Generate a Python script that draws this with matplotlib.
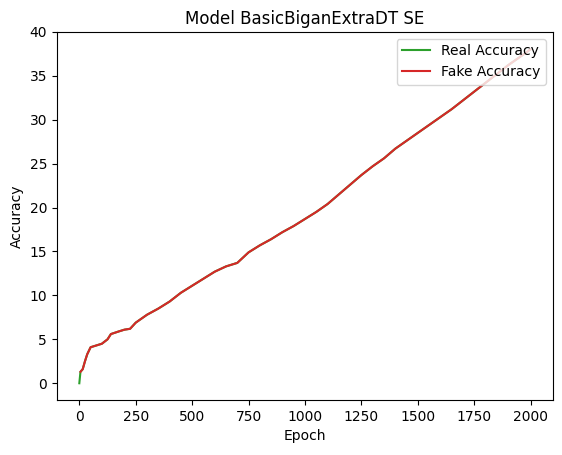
import matplotlib
matplotlib.use("Agg")
import matplotlib.pyplot as plt

# values
epochs = [5, 15, 25, 35, 50, 75, 100, 125, 140, 175, 200, 225, 250, 300, 350, 400,
          450, 500, 550, 600, 650, 700, 750, 800, 850, 900, 950, 1000, 1050, 1100,
          1150, 1200, 1250, 1300, 1350, 1400, 1450, 1500, 1550, 1600, 1650, 1700,
          1750, 1800, 1850, 1900, 1950, 1999]
fake_acc = [1.3, 1.6, 2.5, 3.3, 4.1, 4.3, 4.5, 5.0, 5.6, 5.9, 6.1, 6.2, 6.9, 7.8, 8.5,
            9.3, 10.3, 11.1, 11.9, 12.7, 13.3, 13.7, 14.9, 15.7, 16.4, 17.2, 17.9,
            18.7, 19.5, 20.4, 21.5, 22.6, 23.7, 24.7, 25.6, 26.7, 27.6, 28.5, 29.4,
            30.3, 31.2, 32.2, 33.2, 34.2, 35.2, 36.2, 37.1, 38.0]
real_epochs = [0] + epochs
real_acc = [0.0] + fake_acc

fig = plt.figure(figsize=(5.62, 4.55), dpi=100)
ax = fig.add_subplot(111)
fig.subplots_adjust(left=0.101, right=0.984, top=0.93, bottom=0.121)

ax.plot(real_epochs, real_acc, color="tab:green", label="Real Accuracy")
ax.plot(epochs, fake_acc, color="tab:red", label="Fake Accuracy")
ax.set_ylim(-1.9, 40)
ax.set_title("Model BasicBiganExtraDT SE")
ax.set_xlabel("Epoch")
ax.set_ylabel("Accuracy")
ax.legend(loc="upper right")

fig.savefig("out.png")
